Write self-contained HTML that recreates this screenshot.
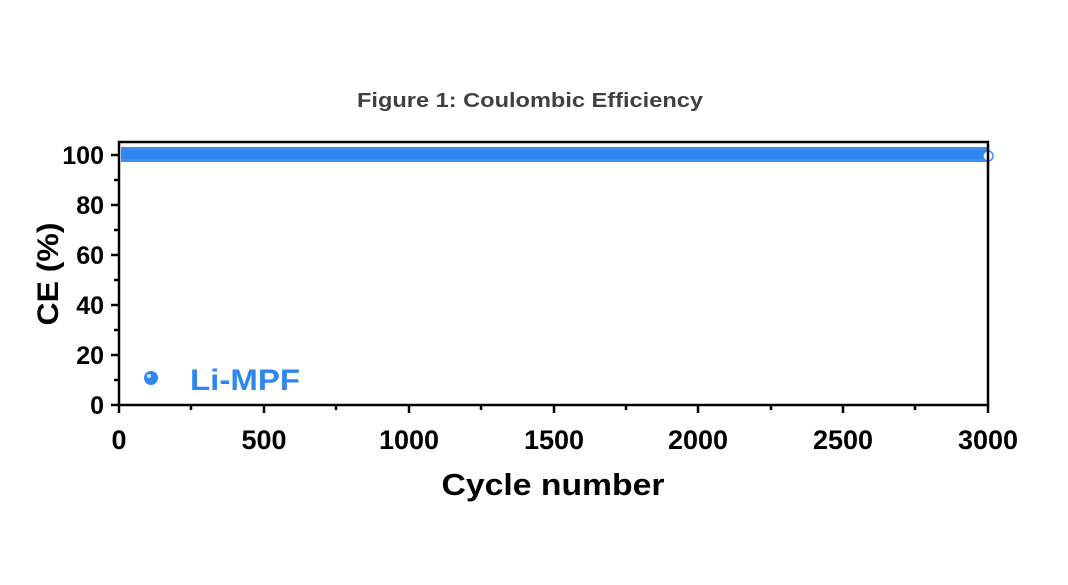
<!DOCTYPE html>
<html><head><style>body{margin:0;background:#fff}</style></head><body>
<svg width="1068" height="580" xmlns="http://www.w3.org/2000/svg" font-family="Liberation Sans, Arial, sans-serif">
<rect width="1068" height="580" fill="#fff"/>
<text x="530" y="107" text-anchor="middle" font-size="20" font-weight="bold" fill="#404040" textLength="346" lengthAdjust="spacingAndGlyphs">Figure 1: Coulombic Efficiency</text>
<rect x="121" y="147" width="867" height="15" fill="#3a8ff0"/>
<rect x="121" y="150" width="867" height="9" fill="#2f86ee"/>
<circle cx="988" cy="156" r="5" fill="#fff" stroke="#3a8ff0" stroke-width="1.5"/>
<rect x="119" y="142" width="869" height="263" fill="none" stroke="#000" stroke-width="2.5"/>
<g stroke="#000" stroke-width="2.5">
<line x1="111" y1="405" x2="119" y2="405"/><line x1="111" y1="355" x2="119" y2="355"/><line x1="111" y1="305" x2="119" y2="305"/><line x1="111" y1="255" x2="119" y2="255"/><line x1="111" y1="205" x2="119" y2="205"/><line x1="111" y1="155" x2="119" y2="155"/>
<line x1="114" y1="380" x2="119" y2="380"/><line x1="114" y1="330" x2="119" y2="330"/><line x1="114" y1="280" x2="119" y2="280"/><line x1="114" y1="230" x2="119" y2="230"/><line x1="114" y1="180" x2="119" y2="180"/>
<line x1="119" y1="405" x2="119" y2="413"/><line x1="264" y1="405" x2="264" y2="413"/><line x1="409" y1="405" x2="409" y2="413"/><line x1="554" y1="405" x2="554" y2="413"/><line x1="698" y1="405" x2="698" y2="413"/><line x1="843" y1="405" x2="843" y2="413"/><line x1="988" y1="405" x2="988" y2="413"/>
<line x1="191" y1="405" x2="191" y2="410"/><line x1="336" y1="405" x2="336" y2="410"/><line x1="481" y1="405" x2="481" y2="410"/><line x1="626" y1="405" x2="626" y2="410"/><line x1="771" y1="405" x2="771" y2="410"/><line x1="915" y1="405" x2="915" y2="410"/>
</g>
<g font-size="25" font-weight="bold" text-anchor="end" fill="#000">
<text x="104" y="414">0</text><text x="104" y="364">20</text><text x="104" y="314">40</text><text x="104" y="264">60</text><text x="104" y="214">80</text><text x="104" y="164">100</text>
</g>
<g font-size="27" font-weight="bold" text-anchor="middle" fill="#000">
<text x="119" y="449">0</text><text x="264" y="449">500</text><text x="409" y="449">1000</text><text x="554" y="449">1500</text><text x="698" y="449">2000</text><text x="843" y="449">2500</text><text x="988" y="449">3000</text>
</g>
<text x="553" y="495" text-anchor="middle" font-size="31" font-weight="bold" textLength="223" lengthAdjust="spacingAndGlyphs">Cycle number</text>
<text transform="translate(58,274) rotate(-90)" text-anchor="middle" font-size="30" font-weight="bold" textLength="103" lengthAdjust="spacingAndGlyphs">CE (%)</text>
<circle cx="151" cy="378" r="7" fill="#2f86ee"/><circle cx="149" cy="376" r="2" fill="#cfe4ff"/>
<text x="190" y="390" font-size="30" font-weight="bold" fill="#2f86ee" textLength="110" lengthAdjust="spacingAndGlyphs">Li-MPF</text>
</svg>
</body></html>
